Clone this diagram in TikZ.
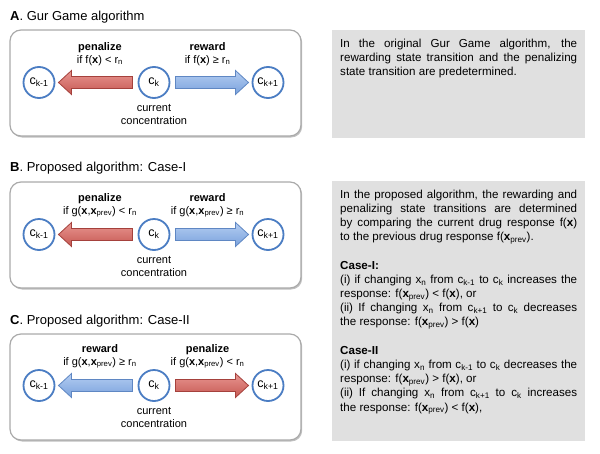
\documentclass[tikz,border=0pt]{standalone}
\usepackage{fontspec}
\setmainfont{Liberation Sans}
\usetikzlibrary{calc,positioning,shadows}

\definecolor{boxgray}{RGB}{170,170,170}
\definecolor{notegray}{RGB}{224,224,224}
\definecolor{circblue}{RGB}{75,125,195}
\definecolor{penlight}{RGB}{232,150,145}
\definecolor{penmid}{RGB}{198,88,82}
\definecolor{pendark}{RGB}{165,65,60}
\definecolor{rewlight}{RGB}{180,205,242}
\definecolor{rewmid}{RGB}{122,162,220}
\definecolor{rewdark}{RGB}{95,135,195}

\newcommand\labfont{\fontsize{11}{13}\selectfont}

\tikzset{
    title/.style = {
        font=\fontsize{13}{15}\selectfont,
        inner sep=0pt,
        anchor=base west,
        },
    panel/.style = {
        draw=boxgray,
        line width=1.2pt,
        rounded corners=11pt,
        fill=white,
        minimum width=291pt,
        minimum height=106pt,
        drop shadow={shadow xshift=1.2pt, shadow yshift=-1.5pt, fill=black, opacity=0.25},
        },
    conc/.style = {
        circle,
        draw=circblue,
        line width=1.8pt,
        fill=white,
        minimum size=31pt,
        inner sep=0pt,
        font=\fontsize{12.5}{14}\selectfont,
        },
    cond/.style = {
        align=center,
        inner sep=0pt,
        font=\labfont,
        },
    penalty arrow/.style = {
        draw=pendark,
        line width=0.8pt,
        top color=penlight,
        bottom color=penmid,
        },
    reward arrow/.style = {
        draw=rewdark,
        line width=0.8pt,
        top color=rewlight,
        bottom color=rewmid,
        },
    fat arrow/.style = {
        to path={
            ($(\tikztostart)!21.5pt!(\tikztotarget)$) coordinate (fa-s)
            ($(\tikztotarget)!19.5pt!(\tikztostart)$) coordinate (fa-t)
            ($(fa-t)!13pt!(fa-s)$) coordinate (fa-b)
            ($(fa-s)!6pt!90:(fa-t)$) -- ($(fa-b)!6pt!-90:(fa-s)$)
            -- ($(fa-b)!12pt!-90:(fa-s)$) -- (fa-t)
            -- ($(fa-b)!12pt!90:(fa-s)$) -- ($(fa-b)!6pt!90:(fa-s)$)
            -- ($(fa-s)!6pt!-90:(fa-t)$) -- cycle
            },
        },
    notebox/.style = {
        fill=notegray,
        inner sep=0pt,
        minimum width=253pt,
        anchor=north west,
        },
    notetext/.style = {
        text width=237pt,
        align=justify,
        inner sep=0pt,
        anchor=north west,
        font=\fontsize{11.6}{14.2}\selectfont,
        },
}

\begin{document}
\begin{tikzpicture}[x=1pt, y=-1pt]
            \useasboundingbox (0,0) rectangle (600,453);

            % A. Gur Game
            \node[title] (titleA) at (10,20) {\textbf{A}. Gur Game algorithm};
            \node[panel] (boxA) at (155.5,83) {};
            \node[conc] (ckA) at (154,82.5) {c\textsubscript{k}};
            \node[conc, on grid, left=115pt of ckA] (ckmA) {c\textsubscript{k-1}};
            \node[conc, on grid, right=114pt of ckA] (ckpA) {c\textsubscript{k+1}};
            \path[penalty arrow] (ckA) to[fat arrow] (ckmA);
            \path[reward arrow] (ckA) to[fat arrow] (ckpA);
            \coordinate (penA) at ($(ckmA)!0.53!(ckA)$);
            \coordinate (rewA) at ($(ckA)!0.47!(ckpA)$);
            \node[cond, above=17pt of penA] (penlabA) {\textbf{penalize}\\if f(\textbf{x}) < r\textsubscript{n}};
            \node[cond, above=17pt of rewA] (rewlabA) {\textbf{reward}\\if f(\textbf{x}) ≥ r\textsubscript{n}};
            \node[cond, below=5.7pt of ckA] (curA) {current\\concentration};

            % B. Case-I
            \node[title] (titleB) at (10,171) {\textbf{B}. Proposed algorithm: Case-I};
            \node[panel] (boxB) at (155.5,235) {};
            \node[conc] (ckB) at (154,234.5) {c\textsubscript{k}};
            \node[conc, on grid, left=115pt of ckB] (ckmB) {c\textsubscript{k-1}};
            \node[conc, on grid, right=114pt of ckB] (ckpB) {c\textsubscript{k+1}};
            \path[penalty arrow] (ckB) to[fat arrow] (ckmB);
            \path[reward arrow] (ckB) to[fat arrow] (ckpB);
            \coordinate (penB) at ($(ckmB)!0.53!(ckB)$);
            \coordinate (rewB) at ($(ckB)!0.47!(ckpB)$);
            \node[cond, above=17pt of penB] (penlabB) {\textbf{penalize}\\if g(\textbf{x},\textbf{x}\textsubscript{prev}) < r\textsubscript{n}};
            \node[cond, above=17pt of rewB] (rewlabB) {\textbf{reward}\\if g(\textbf{x},\textbf{x}\textsubscript{prev}) ≥ r\textsubscript{n}};
            \node[cond, below=5.7pt of ckB] (curB) {current\\concentration};

            % C. Case-II
            \node[title] (titleC) at (10,324) {\textbf{C}. Proposed algorithm: Case-II};
            \node[panel] (boxC) at (155.5,387) {};
            \node[conc] (ckC) at (154,385.5) {c\textsubscript{k}};
            \node[conc, on grid, left=115pt of ckC] (ckmC) {c\textsubscript{k-1}};
            \node[conc, on grid, right=114pt of ckC] (ckpC) {c\textsubscript{k+1}};
            \path[reward arrow] (ckC) to[fat arrow] (ckmC);
            \path[penalty arrow] (ckC) to[fat arrow] (ckpC);
            \coordinate (rewC) at ($(ckmC)!0.53!(ckC)$);
            \coordinate (penC) at ($(ckC)!0.47!(ckpC)$);
            \node[cond, above=17pt of rewC] (rewlabC) {\textbf{reward}\\if g(\textbf{x},\textbf{x}\textsubscript{prev}) ≥ r\textsubscript{n}};
            \node[cond, above=17pt of penC] (penlabC) {\textbf{penalize}\\if g(\textbf{x},\textbf{x}\textsubscript{prev}) < r\textsubscript{n}};
            \node[cond, below=5.7pt of ckC] (curC) {current\\concentration};

            % notes
            \node[notebox, minimum height=108pt] (noteA) at (332,30) {};
            \node[notetext] (textA) at (340,38.5) {In the original Gur Game algorithm, the\linebreak
                rewarding state transition and the penalizing\linebreak
                state transition are predetermined.};
            \node[notebox, minimum height=260pt] (noteB) at (332,181) {};
            \node[notetext] (textB) at (340,189.5) {In the proposed algorithm, the rewarding and\linebreak
                penalizing state transitions are determined\linebreak
                by comparing the current drug response f(\textbf{x})\linebreak
                to the previous drug response f(\textbf{x}\textsubscript{prev}).\\[14.2pt]
                \textbf{Case-I:}\\
                (i) if changing x\textsubscript{n} from c\textsubscript{k-1} to c\textsubscript{k} increases the\linebreak
                response: f(\textbf{x}\textsubscript{prev}) < f(\textbf{x}), or\\
                (ii) If changing x\textsubscript{n} from c\textsubscript{k+1} to c\textsubscript{k} decreases\linebreak
                the response: f(\textbf{x}\textsubscript{prev}) > f(\textbf{x})\\[14.2pt]
                \textbf{Case-II}\\
                (i) if changing x\textsubscript{n} from c\textsubscript{k-1} to c\textsubscript{k} decreases the\linebreak
                response: f(\textbf{x}\textsubscript{prev}) > f(\textbf{x}), or\\
                (ii) If changing x\textsubscript{n} from c\textsubscript{k+1} to c\textsubscript{k} increases\linebreak
                the response: f(\textbf{x}\textsubscript{prev}) < f(\textbf{x}),};
\end{tikzpicture}
\end{document}
